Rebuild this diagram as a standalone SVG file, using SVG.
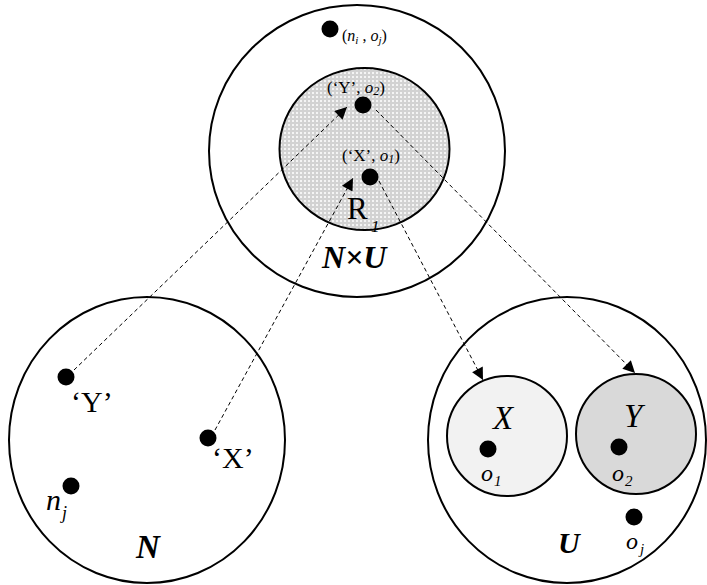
<svg xmlns="http://www.w3.org/2000/svg" width="707" height="585" viewBox="0 0 707 585">
<style>
.c{fill:none;stroke:#000;stroke-width:2}
.d{fill:#000}
.t{font-family:"Liberation Serif","DejaVu Serif",serif;fill:#000}
.i{font-style:italic}
.b{font-weight:bold;font-style:italic}
.e{fill:none;stroke:#000;stroke-width:1;stroke-dasharray:4,3}
</style>
<defs>
<pattern id="dots" width="4" height="4" patternUnits="userSpaceOnUse">
<rect width="4" height="4" fill="#d2d2d2"/>
<rect x="0" y="0" width="2" height="2" fill="#f4f4f4"/>
</pattern>
<marker id="ah" viewBox="0 0 10 10" refX="10" refY="5" markerWidth="14" markerHeight="12" markerUnits="userSpaceOnUse" orient="auto">
<path d="M0,0 L10,5 L0,10 z" fill="#000"/>
</marker>
</defs>
<rect width="707" height="585" fill="#fff"/>
<g id="NxU">
<ellipse class="c" cx="357" cy="151" rx="148" ry="146" fill="#fff"/>
<ellipse cx="364.5" cy="149" rx="85" ry="81" fill="url(#dots)" stroke="#000" stroke-width="2"/>
<circle class="d" cx="330" cy="29" r="8.5"/>
<text class="t" x="342" y="41" font-size="16">(<tspan class="i">n</tspan><tspan class="i" font-size="11" dy="3">i</tspan><tspan dy="-3"> , </tspan><tspan class="i">o</tspan><tspan class="i" font-size="11" dy="3">j</tspan><tspan dy="-3">)</tspan></text>
<text class="t" x="327" y="93" font-size="17">(‘Y’, <tspan class="i">o</tspan><tspan class="i" font-size="12" dy="2">2</tspan><tspan dy="-2">)</tspan></text>
<circle class="d" cx="363" cy="105" r="8.5"/>
<text class="t" x="342" y="161" font-size="17">(‘X’, <tspan class="i">o</tspan><tspan class="i" font-size="12" dy="2">1</tspan><tspan dy="-2">)</tspan></text>
<circle class="d" cx="370" cy="177" r="8.5"/>
<text class="t" x="347" y="219" font-size="31">R</text>
<text class="t i" x="371" y="232" font-size="17">1</text>
<text class="t b" x="322" y="268" font-size="32">N×U</text>
</g>
<g id="N">
<ellipse class="c" cx="147" cy="440" rx="138" ry="143"/>
<circle class="d" cx="66" cy="377" r="8.5"/>
<text class="t" x="71" y="412" font-size="30">‘Y’</text>
<circle class="d" cx="208" cy="438" r="8.5"/>
<text class="t" x="212" y="468" font-size="30">‘X’</text>
<circle class="d" cx="71" cy="486" r="8.5"/>
<text class="t i" x="46" y="510" font-size="30">n</text>
<text class="t i" x="62" y="519" font-size="18">j</text>
<text class="t b" x="136" y="558" font-size="33">N</text>
</g>
<g id="U">
<ellipse class="c" cx="567" cy="440" rx="139" ry="143"/>
<circle cx="507" cy="436" r="60" fill="#f2f2f2" stroke="#000" stroke-width="2"/>
<text class="t i" x="493" y="429" font-size="33">X</text>
<circle class="d" cx="488" cy="449" r="8.5"/>
<text class="t i" x="481" y="481" font-size="24">o</text>
<text class="t i" x="494" y="486" font-size="15">1</text>
<circle cx="636" cy="434" r="60" fill="#d9d9d9" stroke="#000" stroke-width="2"/>
<text class="t i" x="624" y="427" font-size="33">Y</text>
<circle class="d" cx="619" cy="447" r="8.5"/>
<text class="t i" x="612" y="481" font-size="24">o</text>
<text class="t i" x="625" y="486" font-size="15">2</text>
<circle class="d" cx="634" cy="517" r="8.5"/>
<text class="t i" x="626" y="549" font-size="24">o</text>
<text class="t i" x="640" y="554" font-size="15">j</text>
<text class="t b" x="558" y="553" font-size="30">U</text>
</g>
<g id="connectors">
<line class="e" x1="74" y1="370" x2="347" y2="107" marker-end="url(#ah)"/>
<line class="e" x1="215" y1="430" x2="353" y2="178" marker-end="url(#ah)"/>
<line class="e" x1="379" y1="181" x2="483" y2="380" marker-end="url(#ah)"/>
<line class="e" x1="376" y1="110" x2="635" y2="373" marker-end="url(#ah)"/>
</g>
</svg>
